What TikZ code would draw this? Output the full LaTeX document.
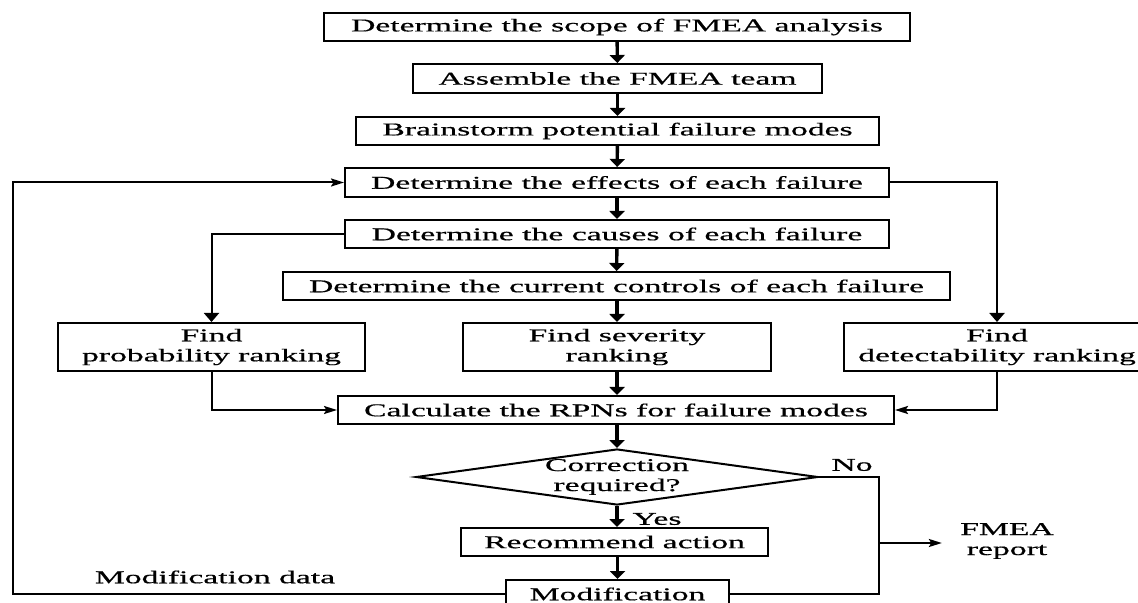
\documentclass[tikz,border=0pt]{standalone}
\usepackage{fontspec}
\setmainfont{Liberation Serif}[FakeStretch=1.87,FakeBold=0.6]
\usetikzlibrary{arrows.meta,shapes.geometric}
\begin{document}
\begin{tikzpicture}[x=0.5pt,y=-0.5pt,
  font=\fontsize{9}{10}\selectfont,
  box/.style={draw, line width=1pt, inner sep=0pt, align=center, minimum height=14pt},
  flow/.style={line width=1.7pt, -{Triangle[width=7.5pt,length=4pt]}},
  link/.style={line width=1pt},
  linkarrow/.style={line width=1pt, -{Stealth[length=6.5pt,width=4pt,inset=1.2pt]}},
  branch/.style={line width=1pt, -{Triangle[width=7.5pt,length=4.5pt]}},
  lbl/.style={inner sep=0pt, align=center}]
\useasboundingbox (0,0) rectangle (1138,603);
% main column
\node[box, minimum width=293pt] (b1) at (617,27) {Determine the scope of FMEA analysis};
\node[box, minimum width=204.5pt, minimum height=14.5pt] (b2) at (617.5,78.5) {Assemble the FMEA team};
\node[box, minimum width=261.5pt] (b3) at (617.5,131) {Brainstorm potential failure modes};
\node[box, minimum width=272pt, minimum height=14.5pt] (b4) at (617,182.5) {Determine the effects of each failure};
\node[box, minimum width=272pt] (b5) at (617,234) {Determine the causes of each failure};
\node[box, minimum width=333.5pt] (b6) at (616.5,286) {Determine the current controls of each failure};
% ranking row
\node[box, minimum width=153.5pt, minimum height=24pt] (prob) at (211.5,347) {Find\\probability ranking};
\node[box, minimum width=154pt, minimum height=24pt] (sev) at (617,347) {Find severity\\ranking};
\node[box, minimum width=153.5pt, minimum height=24pt] (det) at (997,347) {Find\\detectability ranking};
\node[box, minimum width=278pt] (rpn) at (616,410) {Calculate the RPNs for failure modes};
% decision
\node[draw, diamond, line width=1pt, inner sep=0pt, aspect=7.2,
      minimum width=201pt, minimum height=28pt,
      label={[lbl]center:Correction\\required?}] (dec) at (617,477) {};
\node[box, minimum width=153.5pt] (rec) at (614.5,542) {Recommend action};
\node[box, minimum width=111.5pt] (mod) at (617.5,594) {Modification};
% free texts
\node[lbl] (yes) at (657,519) {Yes};
\node[lbl] (no) at (852,465) {No};
\node[lbl] (rep) at (1007,541) {FMEA\\report};
\node[lbl] (mdata) at (215,577) {Modification data};
% coordinates
\coordinate (lx) at (13,594);
\coordinate (nx) at (879,594);
\coordinate (nm) at (879,543);
% main flow
\draw[flow] (b1) -- (b2);
\draw[flow] (b2) -- (b3);
\draw[flow] (b3) -- (b4);
\draw[flow] (b4) -- (b5);
\draw[flow] (b5) -- (b6);
\draw[flow] (b6.south -| sev.north) -- (sev);
\draw[flow] (sev) -- (rpn.north -| sev.south);
\draw[flow] (rpn.south -| dec.north) -- (dec);
\draw[flow] (dec) -- (rec.north -| dec.south);
\draw[flow] (rec.south -| mod.north) -- (mod);
% branches
\draw[branch] (b5.west) -| (prob.north);
\draw[branch] (b4.east) -| (det.north);
\draw[linkarrow] (prob.south) |- (rpn.west);
\draw[linkarrow] (det.south) |- (rpn.east);
% loop back
\draw[linkarrow] (mod.west) -- (lx) |- (b4.west);
% no branch
\draw[link] (dec.east) -| (nx) -- (mod.east);
\draw[linkarrow, shorten >=9pt] (nm) -- (rep.west |- nm);
\end{tikzpicture}
\end{document}
